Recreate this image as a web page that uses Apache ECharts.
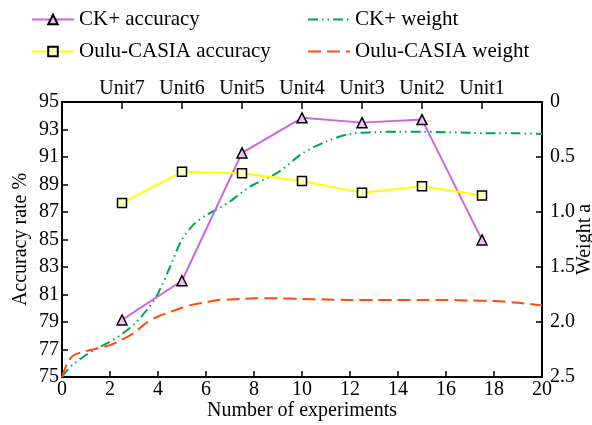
<!DOCTYPE html>
<html>
<head>
<meta charset="utf-8">
<script src="https://cdn.jsdelivr.net/npm/echarts@6/dist/echarts.min.js"></script>
<style>html,body{margin:0;padding:0;background:#fff}#c{width:592px;height:425px}</style>
</head>
<body>
<div id="c"></div>
<script>
// ---- data ----
var unitPositions = [2.5, 5, 7.5, 10, 12.5, 15, 17.5];
var unitLabels = ['Unit7', 'Unit6', 'Unit5', 'Unit4', 'Unit3', 'Unit2', 'Unit1'];
var accX = [2.5, 5, 7.5, 10, 12.5, 15, 17.5];
var ckAccuracy = [79.15, 82.0, 91.3, 93.85, 93.5, 93.72, 84.97];
var ouluAccuracy = [87.65, 89.92, 89.82, 89.25, 88.4, 88.88, 88.2];
var weightX = [0, 0.25, 0.5, 1, 1.5, 2, 2.5, 3, 3.5, 4, 4.5, 5, 5.5, 6, 6.5, 7, 7.5, 8, 9, 10, 11, 12, 13, 14, 15, 16, 17, 18, 19, 20];
var ckWeight = [2.50, 2.43, 2.38, 2.30, 2.235, 2.18, 2.11, 2.02, 1.90, 1.74, 1.50, 1.25, 1.11, 1.03, 0.97, 0.905, 0.82, 0.75, 0.64, 0.47, 0.36, 0.29, 0.275, 0.27, 0.27, 0.275, 0.28, 0.285, 0.285, 0.29];
var ouluWeight = [2.50, 2.36, 2.30, 2.265, 2.24, 2.21, 2.16, 2.10, 2.01, 1.95, 1.91, 1.87, 1.84, 1.82, 1.80, 1.795, 1.79, 1.785, 1.785, 1.79, 1.795, 1.80, 1.80, 1.80, 1.80, 1.80, 1.805, 1.81, 1.825, 1.85];
var leftTicks = {min: 75, max: 95, interval: 2};
var rightTicks = {min: 0, max: 2.5, interval: 0.5};
var bottomTicks = {min: 0, max: 20, interval: 2};

function pairs(xs, ys) { return xs.map(function (x, i) { return [x, ys[i]]; }); }

var FONT = 'Liberation Serif';
var txt = {fontFamily: FONT, fontSize: 20, color: '#000'};
var legendTxt = {fontFamily: FONT, fontSize: 21, color: '#000', lineHeight: 20};
var axisLine = {show: true, onZero: false, lineStyle: {color: '#000', width: 2}};
var axisTick = {show: true, inside: true, length: 6, lineStyle: {color: '#000', width: 1.5}};
var noSym = {color: 'transparent', borderColor: 'transparent', borderWidth: 0};

var chart = echarts.init(document.getElementById('c'), null, {renderer: 'canvas'});
chart.setOption({
  animation: false,
  backgroundColor: '#fff',
  textStyle: {fontFamily: FONT},
  grid: {left: 62, right: 50, top: 102, bottom: 48, containLabel: false, outerBoundsMode: 'none'},
  legend: [
    {orient: 'vertical', left: 26, top: 4, itemWidth: 42, itemHeight: 12, itemGap: 11,
     textStyle: legendTxt,
     data: ['CK+ accuracy', 'Oulu-CASIA accuracy']},
    {orient: 'vertical', left: 302, top: 4, itemWidth: 42, itemHeight: 12, itemGap: 11,
     textStyle: legendTxt,
     data: [{name: 'CK+ weight', itemStyle: noSym}, {name: 'Oulu-CASIA weight', itemStyle: noSym}]}
  ],
  xAxis: [
    {type: 'value', position: 'bottom', min: bottomTicks.min, max: bottomTicks.max, interval: bottomTicks.interval,
     name: 'Number of experiments', nameLocation: 'middle', nameGap: 24, nameMoveOverlap: false, nameTextStyle: txt,
     axisLine: axisLine, axisTick: axisTick, splitLine: {show: false},
     axisLabel: Object.assign({margin: 3}, txt)},
    {type: 'value', position: 'top', min: 0, max: 20, interval: 2.5,
     axisLine: axisLine, axisTick: {show: true, inside: true, length: 7, lineStyle: {color: '#000', width: 1.5}},
     splitLine: {show: false},
     axisLabel: Object.assign({margin: 3, showMinLabel: true, showMaxLabel: true, formatter: function (v) {
       var i = unitPositions.indexOf(v); return i >= 0 ? unitLabels[i] : '';
     }}, txt)}
  ],
  yAxis: [
    {type: 'value', position: 'left', min: leftTicks.min, max: leftTicks.max, interval: leftTicks.interval,
     name: 'Accuracy rate %', nameLocation: 'middle', nameGap: 31, nameRotate: 90, nameMoveOverlap: false, nameTextStyle: txt,
     axisLine: axisLine, axisTick: axisTick, splitLine: {show: false},
     axisLabel: Object.assign({margin: 3}, txt)},
    {type: 'value', position: 'right', min: rightTicks.min, max: rightTicks.max, interval: rightTicks.interval, inverse: true,
     name: 'Weight a', nameLocation: 'middle', nameGap: 33, nameRotate: 90, nameMoveOverlap: false, nameTextStyle: txt,
     axisLine: axisLine, axisTick: axisTick, splitLine: {show: false},
     axisLabel: Object.assign({margin: 8, formatter: function (v) { return v === 0 ? '0' : v.toFixed(1); }}, txt)}
  ],
  series: [
    {name: 'CK+ weight', type: 'line', xAxisIndex: 0, yAxisIndex: 1, data: pairs(weightX, ckWeight),
     smooth: 0.3, symbol: 'none', z: 2,
     lineStyle: {color: '#00A651', width: 2, type: [10, 4, 1.5, 4, 1.5, 4]},
     itemStyle: {color: '#00A651'}},
    {name: 'Oulu-CASIA weight', type: 'line', xAxisIndex: 0, yAxisIndex: 1, data: pairs(weightX, ouluWeight),
     smooth: 0.3, symbol: 'none', z: 2,
     lineStyle: {color: '#FF4A10', width: 2, type: [13, 6]},
     itemStyle: {color: '#FF4A10'}},
    {name: 'CK+ accuracy', type: 'line', xAxisIndex: 0, yAxisIndex: 0, data: pairs(accX, ckAccuracy),
     symbol: 'triangle', symbolSize: 10, z: 3,
     lineStyle: {color: '#CC66DD', width: 2},
     itemStyle: {color: '#F0C0F4', borderColor: '#000', borderWidth: 1.5}},
    {name: 'Oulu-CASIA accuracy', type: 'line', xAxisIndex: 0, yAxisIndex: 0, data: pairs(accX, ouluAccuracy),
     symbol: 'rect', symbolSize: 9, z: 3,
     lineStyle: {color: '#FFFF00', width: 2},
     itemStyle: {color: '#FFFFC4', borderColor: '#000', borderWidth: 1.5}}
  ]
});
</script>
</body>
</html>
